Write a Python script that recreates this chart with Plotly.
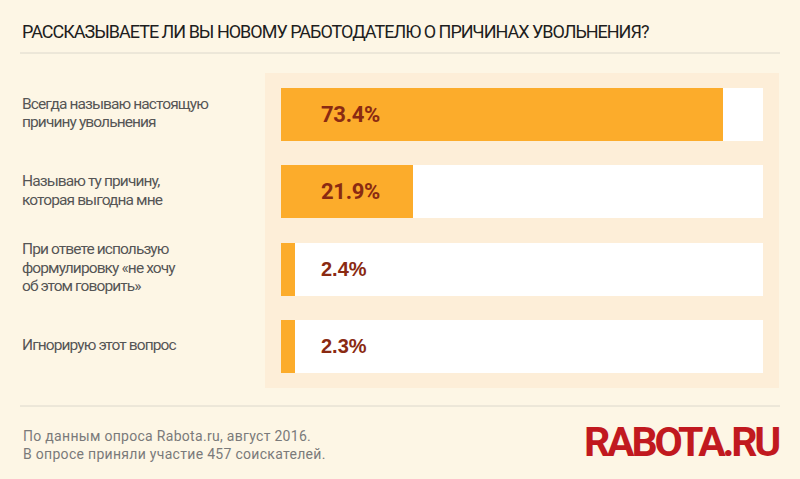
import plotly.graph_objects as go

# Data
categories = [
    "Всегда называю настоящую<br>причину увольнения",
    "Называю ту причину,<br>которая выгодна мне",
    "При ответе использую<br>формулировку «не хочу<br>об этом говорить»",
    "Игнорирую этот вопрос",
]
values = [73.4, 21.9, 2.4, 2.3]
value_labels = ["73.4%", "21.9%", "2.4%", "2.3%"]
x_max = 80

title_text = "РАССКАЗЫВАЕТЕ ЛИ ВЫ НОВОМУ РАБОТОДАТЕЛЮ О ПРИЧИНАХ УВОЛЬНЕНИЯ?"
footer_lines = [
    "По данным опроса Rabota.ru, август 2016.",
    "В опросе приняли участие 457 соискателей.",
]
logo_text = "RABOTA.RU"

BG = "#fdf6e5"
PANEL = "#fdeed8"
ORANGE = "#fcac2b"
VALUE_COLOR = "#8a2a12"
LABEL_COLOR = "#555555"
COND = "Roboto, sans-serif"


def squeeze(text, ls):
    return f'<span style="letter-spacing:{ls}px">{text}</span>'


W, H = 800, 479
L, R, T, B = 281, 37, 76, 94
plot_w = W - L - R
plot_h = H - T - B


def px_x(px):
    return (px - L) / plot_w


def px_y(py):
    return (H - B - py) / plot_h


ypos = list(range(len(categories)))

fig = go.Figure()
fig.add_trace(go.Bar(
    x=[x_max] * len(categories), y=ypos, orientation="h",
    marker=dict(color="white", line=dict(width=0)), width=0.686,
    hoverinfo="skip", showlegend=False,
))
fig.add_trace(go.Bar(
    x=values, y=ypos, orientation="h",
    marker=dict(color=ORANGE, line=dict(width=0)), width=0.686,
    showlegend=False,
))

annotations = []
LINE_GAP = 18.5
for i, (cat, lab) in enumerate(zip(categories, value_labels)):
    big = values[i] > 10
    annotations.append(dict(
        x=0, y=i, xref="x", yref="y", text=f"<b>{squeeze(lab, -0.3) if big else lab}</b>",
        xanchor="left", yanchor="middle", xshift=38, showarrow=False,
        font=dict(family=COND if big else "Liberation Sans, Arial, sans-serif",
                  size=22 if big else 20, color=VALUE_COLOR),
    ))
    lines = cat.split("<br>")
    n = len(lines)
    for k, line in enumerate(lines):
        annotations.append(dict(
            x=px_x(20), y=i, xref="paper", yref="y", text=squeeze(line, -0.9),
            xanchor="left", yanchor="middle", align="left", showarrow=False,
            yshift=-((k - (n - 1) / 2) * LINE_GAP) + 1.5,
            font=dict(family=COND, size=15.5, color=LABEL_COLOR),
        ))

annotations.append(dict(
    x=px_x(20), y=px_y(31.5), xref="paper", yref="paper",
    text=squeeze(title_text, -1.0), xanchor="left", yanchor="middle", showarrow=False,
    font=dict(family=COND, size=18, color="#1e1e1e"),
))
annotations.append(dict(
    x=px_x(21), y=px_y(444.5), xref="paper", yref="paper",
    text="<br>".join(squeeze(t, 0.3) for t in footer_lines),
    xanchor="left", yanchor="middle", align="left",
    showarrow=False, font=dict(family=COND, size=14, color="#7a7a7a"),
))
annotations.append(dict(
    x=px_x(781), y=px_y(441.5), xref="paper", yref="paper",
    text=f"<b>{squeeze(logo_text, -3.2)}</b>", xanchor="right", yanchor="middle",
    showarrow=False,
    font=dict(family=COND, size=41, color="#c1191f"),
))

shapes = [
    dict(type="rect", xref="paper", yref="paper", layer="below",
         x0=px_x(265), x1=px_x(779), y0=px_y(388), y1=px_y(73),
         fillcolor=PANEL, line=dict(width=0)),
    dict(type="line", xref="paper", yref="paper",
         x0=px_x(20), x1=px_x(780), y0=px_y(53), y1=px_y(53),
         line=dict(color="#dcd8cc", width=1)),
    dict(type="line", xref="paper", yref="paper",
         x0=px_x(20), x1=px_x(780), y0=px_y(406), y1=px_y(406),
         line=dict(color="#dcd8cc", width=1)),
]

fig.update_layout(
    width=W, height=H, margin=dict(l=L, r=R, t=T, b=B),
    paper_bgcolor=BG, plot_bgcolor="rgba(0,0,0,0)",
    barmode="overlay", bargap=0,
    xaxis=dict(range=[0, x_max], visible=False, fixedrange=True),
    yaxis=dict(range=[len(categories) - 0.5, -0.5], visible=False, fixedrange=True),
    annotations=annotations, shapes=shapes,
)

fig.write_html(
    "out.html",
    config={"displayModeBar": False},
    post_script="document.body.style.margin='0';document.body.style.background='" + BG + "';",
)
